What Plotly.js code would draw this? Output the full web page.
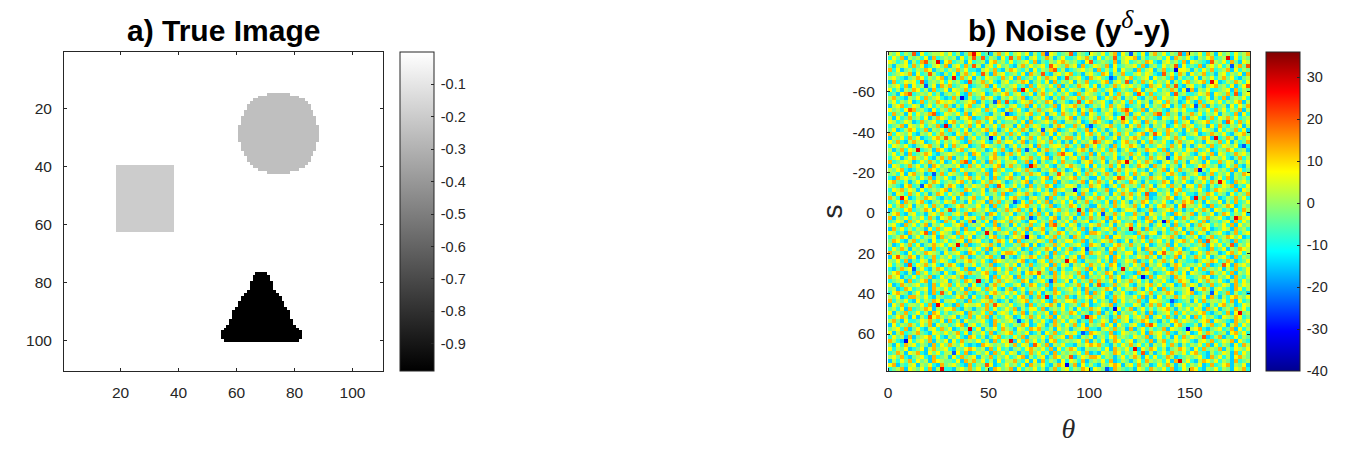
<!DOCTYPE html>
<html>
<head>
<meta charset="utf-8">
<script src="https://cdn.plot.ly/plotly-3.0.1.min.js"></script>
<style>html,body{margin:0;padding:0;background:#fff}</style>
</head>
<body>
<div id="plot" style="width:1361px;height:449px"></div>
<script>
// a) shapes (image is 110 x 110)
const imgSize = 110;
const squareVal = -0.197, circleVal = -0.247, triangleVal = -0.984;
const squareCols = [19, 38], squareRows = [40, 62];
const circleFirstRow = 15, circleCenterCol = 74;
const circleHalf = [4,7,9,10,11,11,12,12,13,13,13,14,14,14,14,14,14,13,13,13,12,12,11,11,10,9,7,4];
const triFirstRow = 77, triCenterCol = 68;
const triHalf = [2,3,3,4,4,4,5,6,7,7,8,8,9,10,10,10,11,11,12,13,14,14,14,13];
const grayTicks = [-0.1,-0.2,-0.3,-0.4,-0.5,-0.6,-0.7,-0.8,-0.9];

// b) noise: hand estimated by eye on a coarser grid than the original,
// it follows the colour mix of the picture, not each single cell
const noiseLevels = [-32,-24,-15,-9,-3,2,7,13,20,28];
const noiseRows = [
"546354826345564 635247963425746 356462537165345 825436546357264 453625746354827 546375264536457",
"364725453627345 452635848354263 547325634752463 346574263548356 672534453627546 325467345926354",
"653462537845326 734526345267453 634563724354675 453268345437256 345476325645372 654328546374265",
"425563746235647 256374852563645 325746456326547 562734654726345 563724536458263 437256463525748",
"736245354762453 547463325647325 764352635478352 345645273536264 427356247345665 253647345726354",
"345657263485325 362574634527563 453627548325646 734256437625473 356465328463752 645734256354627",
"564324576354672 453746253654374 627345364756238 456327564352546 734562645372534 362546357463245",
"273465638245463 645328457463256 345762453627354 625473346725648 253746354625367 456734623547536",
"456372645346275 734562345726354 563427365463725 347563625347465 645327563748325 634256745362468",
"635254763527346 265473654347625 472563746345263 654256743562354 376254635475263 725463345627354",
"342678345463524 546327456235467 356346257463546 327465435263746 524637345628453 346572654738256",
"574325463745632 374625347563254 645723546325374 563745623647525 463254736546327 563462537245463",
"463546237354765 653456725346738 324657354762453 245367456325463 736452563745236 427356463546725",
"256734652463547 425367346254653 563472635347265 674523546374652 345263547625374 654725345263647",
"645362745326354 763254563746325 746325474563264 352647325463578 634726453256463 325463746354725",
"374526364578236 546372654325467 235467346256375 463726534652347 256354763745254 746354625437263",
"526347453624765 342567234765346 674352563724546 725346473563625 473645326546372 563247365746345",
"653465237456342 674356475362534 453627345647325 546235764325476 365274645327356 245673452563746",
"345726546354725 253647362546375 526374653425763 374625345674352 647352546236475 634526374354625",
"462357634725463 745362546735246 364752463567234 653472635246345 523467354763526 473654263547362",
"736546325463574 326475354267453 746325547362645 425367463525746 346725463745324 562347546325674",
"254637462346758 563724635473625 352647364526357 746354257346254 675346235647463 345762634752546",
"647325756234635 465327456325746 635724356473524 263546374652367 452637546325745 634265473625347",
"365463245674526 374562347654352 463546274356647 535274635427365 764253465374625 246537346546273",
"524736563452763 246735645236473 257364625745362 346752546375246 325476637254536 573462354763452",
"463527345763245 654352763457325 746354365234756 625437263546354 746325354726465 325647265347564",
"356246754632574 725463254367546 324657436725463 563725457346235 264537465236754 463725546324735",
"734565236475362 364752635274635 563472625346374 432567346254763 536475325647352 654263374652546",
"265347463527645 546237463546725 745326754632546 754362635473625 347652746354263 346754523647325",
"546732356476354 273645546327463 356474325467352 365247456325746 563426357263745 472536645372634",
"453626745235473 654372354726534 623547563254764 526374635742536 374652453675324 563247354625476",
"327564536472546 325467463527346 745263346725645 673542263546375 625347564236475 346752463725453",
"674352463257634 546735236475642 354672546337254 345726475362543 764253347625463 254637546327564",
"543267345674325 763254654732563 463527354762346 652437563246375 453746256374526 637425346572436",
"365746526345467 254376346257456 725346463527564 473562354723646 325647634526734 546324765437265",
"426537463524763 645723546345372 346574235647325 562743634526475 746352254637463 325476354263547",
"753462354765324 362546734625463 674325645273546 347256476354625 635472345762356 264735623547463",
"346275467324536 573426356274735 452637364725463 625473543627364 254763546325476 735264462537346",
"635746254637452 346754463527346 235674536472354 763542264537465 473625367452635 546327345762354",
"254367345762635 625346754632547 467352625346745 346527547363246 652347245673524 364752653426375",
"467325634256474 356472345276354 624537473625356 452736362547463 374526546327645 725346247635462",
"725463546374265 734265637452346 356746254367254 625347453726354 563274635462375 346574563243756",
"346527463546327 462537453627564 745326635472546 374562346257634 425367254736453 653724435627364",
"563274635725463 356724546337245 263547346275463 652436574362546 736452463527346 247563546372645",
"274635354263746 645273362546734 536472657346325 463725235647354 645273546374625 354762346527453",
"653427546327365 427365634752456 374625346254763 546327764352543 327546625347462 736524563247356",
"345762463546274 563746245367342 465736523647354 275364453726645 563724346574235 462357345764623",
"476325735426346 345627563425763 627345465372546 634725346574236 254637463525674 637245635427345",
"523647362457563 654372346574253 354762623547463 456327652436754 745362354726345 345726463572546",
"364752546327345 273546463726534 546237345762635 723654345267463 436275546374623 564327346254765",
"745326354765426 456327635245367 763542463527346 345627564372546 625437263546754 236475523674635",
"263547625347354 634752354673425 324657634725463 562743354627635 346574625347263 475362456327354",
"546372436527465 325467546327654 546723256374546 673254463527346 572436357462543 324657634752346",
"635428365746325 763254635472346 462537345627365 254637546376245 364725463257634 546372345627564",
"324756546325763 456372263547635 736452546374253 365472635246374 645273546327456 263745462537346",
"467325274635426 325647546732546 345267635427364 547326354762453 327564234675362 654327546372546",
"756243635472364 564723345627365 627354263547465 635724546374623 463527365427563 345762354627435",
"345627346725456 245376463525746 543762456327346 263547375462645 746352546324765 236475463257364",
"623754563427365 736452634257463 356247634725563 457362562347456 325467463562374 652437346527465",
"452376345627546 354627563746325 724635546327345 635274345762635 574263627354456 346752564327635",
"367542463527364 625473245367546 463527362547634 546372746325463 235647345762356 723546634725342",
"546237754632543 346752634725463 536742473625347 325467456237564 463725263547465 354627425367546",
"735463263547625 563427346574235 245673546327546 674352635427364 547326654372345 263745546372634",
"264735546372463 427365563742654 634527354675263 453762346572453 365247473625634 546325367452365",
"453627345762546 673254245736346 472536637245463 526347563247635 724635356742546 365274624537463",
"625473463527635 345627546372565 364725354627354 763542472536254 463527245637364 546732453726345",
"346752625346754 562437364725346 523647463572645 345267635424756 356472563742536 273645326547634",
"574263346574362 735264456327545 647352546327463 652437346527356 245763425367465 435672654327546",
"263547536472645 346725635427364 354762365247536 473625457362643 563274634526743 352647346257364",
"456372463256374 623547362546375 426537674352645 245673325647452 724635347265436 567324563472635",
"625734574326546 457362546372456 735462352647346 563427654372365 453627564732546 236475345267463",
"364527245673632 546327635246734 364725546374562 732546245367454 365472463526374 654723572436354",
"753246356472546 263745463527365 526374635267345 456372536247635 624537257346465 325647346572643",
"426375635427364 754632327654546 473652364725463 325467674325364 746352546374253 546372635426375",
"635462346257456 325467645273634 245367546372635 763254453627546 352647635245764 263745472536546",
"347526573264635 546372354627463 652437463527354 546372326547635 463725246375463 674325346527364",
"564732456327345 263745625473546 346725356247645 324657763542463 575263634752345 456327463526754",
"253647364527654 436275746352635 574362627354263 653724546372354 246375453627546 325764635427345",
"672435625463274 564327354762346 453627546325764 472635325467625 637452364752463 546237346725462",
"345726546372563 325647463527645 726354635247356 354762654327543 426537546372364 763254635426573"
];
// sparse red and blue cells seen in the picture: [row, col, code]
const noiseSpecks = [
[2,12,9],[3,40,8],[4,71,0],[5,23,8],[6,55,1],[7,80,9],[8,9,1],[9,33,9],[10,62,8],[11,18,0],[12,47,8],[13,76,1],
[14,5,8],[15,29,1],[16,58,9],[17,84,8],[18,14,9],[19,38,1],[20,66,8],[21,25,0],[22,51,8],[23,88,1],[24,7,9],[25,43,8],
[26,69,1],[27,19,8],[28,35,9],[29,77,0],[30,11,1],[31,57,8],[32,82,9],[33,27,8],[34,46,0],[35,64,8],[36,3,9],[37,31,1],
[38,73,8],[39,15,8],[40,53,1],[41,86,9],[42,21,1],[43,41,8],[44,60,9],[45,9,8],[46,34,0],[47,79,8],[48,17,9],[49,49,1],
[50,68,8],[51,28,1],[52,44,9],[53,83,8],[54,6,1],[55,37,8],[56,63,0],[57,22,9],[58,52,8],[59,75,1],[60,13,8],[61,39,9],
[62,70,1],[63,26,8],[64,56,0],[65,87,9],[66,10,8],[67,32,1],[68,65,8],[69,20,9],[70,48,1],[71,78,8],[72,4,0],[73,36,8],
[74,61,9],[75,16,1],[76,45,8],[77,72,9],[78,24,8],[79,54,1],[1,30,8],[3,85,1],[6,16,9],[9,74,1],[12,26,1],[15,67,8],
[18,50,1],[21,81,9],[24,34,1],[27,59,9],[30,42,8],[33,8,1],[36,76,9],[39,47,9],[42,68,0],[45,24,9],[48,85,8],[51,2,8],
[54,58,9],[57,40,1],[60,80,1],[63,12,9],[66,49,9],[69,74,0],[72,30,9],[75,63,8],[78,44,0],[0,60,1],[79,13,9],[41,35,1]
];
const noiseTicks = [-40,-30,-20,-10,0,10,20,30];
const thetaTicks = [0,50,100,150];
const sTicks = [-60,-40,-20,0,20,40,60];
const imgTicks = [20,40,60,80,100];

const W = 1361, H = 449;
const textCol = '#262626';
const sans = '"Liberation Sans", Arial, sans-serif';
const serif = '"Liberation Serif", "Times New Roman", serif';

// build the image matrix from the row lists
let img = [];
for (let r = 1; r <= imgSize; r++) {
    let row = [];
    for (let c = 1; c <= imgSize; c++) {
        let v = 0;
        if (r >= squareRows[0] && r <= squareRows[1] && c >= squareCols[0] && c <= squareCols[1]) v = squareVal;
        let hc = circleHalf[r - circleFirstRow];
        if (hc && c > circleCenterCol - hc && c <= circleCenterCol + hc) v = circleVal;
        let ht = triHalf[r - triFirstRow];
        if (ht && c > triCenterCol - ht && c <= triCenterCol + ht) v = triangleVal;
        row.push(v);
    }
    img.push(row);
}

let noise = noiseRows.map(s => s.replace(/ /g, '').split('').map(d => noiseLevels[+d]));
noiseSpecks.forEach(s => { noise[s[0]][s[1]] = noiseLevels[s[2]]; });

function axisStyle(extra) {
    return Object.assign({
        showgrid: false, zeroline: false, showline: true, mirror: 'ticks',
        linecolor: textCol, linewidth: 1, ticks: 'inside', ticklen: 3, tickwidth: 1,
        tickcolor: textCol, tickfont: {family: sans, size: 15.5, color: textCol}
    }, extra);
}

function cbar(left, tickvals) {
    return {
        x: left / W, xanchor: 'left', xref: 'paper', xpad: 0,
        y: 1 - 211.5 / H, yanchor: 'middle', ypad: 0, yref: 'paper',
        len: 319, lenmode: 'pixels', thickness: 34, thicknessmode: 'pixels',
        outlinecolor: textCol, outlinewidth: 1,
        ticks: 'inside', ticklen: 3, tickcolor: textCol,
        tickvals: tickvals, ticktext: tickvals.map(v => '\u2009' + v),
        tickfont: {family: sans, size: 14.5, color: textCol}
    };
}

let gray = {
    type: 'heatmap', z: img, x0: 1, dx: 1, y0: 1, dy: 1, xaxis: 'x', yaxis: 'y',
    zmin: triangleVal, zmax: 0, colorscale: [[0, '#000000'], [1, '#ffffff']],
    hoverinfo: 'skip', colorbar: cbar(400, grayTicks)
};
let jet = {
    type: 'heatmap', z: noise, x0: 1, dx: 2, y0: -78.7, dy: 1.975, xaxis: 'x2', yaxis: 'y2',
    zmin: -40, zmax: 36,
    colorscale: [[0, '#00008f'], [0.125, '#0000ff'], [0.375, '#00ffff'], [0.625, '#ffff00'], [0.875, '#ff0000'], [1, '#800000']],
    hoverinfo: 'skip', colorbar: cbar(1266, noiseTicks)
};

let titleFont = {family: sans, size: 30, color: '#000000'};
let layout = {
    width: W, height: H, margin: {l: 0, r: 0, t: 0, b: 0, pad: 0},
    paper_bgcolor: '#ffffff', plot_bgcolor: '#ffffff', showlegend: false,
    xaxis: axisStyle({domain: [64 / W, 383 / W], range: [0.5, 110.5], tickvals: imgTicks, anchor: 'y', ticklabelstandoff: 7}),
    yaxis: axisStyle({domain: [1 - 371 / H, 1 - 52 / H], range: [110.5, 0.5], tickvals: imgTicks, anchor: 'x', ticklabelstandoff: 8}),
    xaxis2: axisStyle({
        domain: [887 / W, 1250 / W], range: [-0.5, 180], tickvals: thetaTicks, anchor: 'y2', ticklabelstandoff: 7,
        title: {text: '<i>θ</i>', font: {family: serif, size: 28, color: textCol}, standoff: 18}
    }),
    yaxis2: axisStyle({
        domain: [1 - 371 / H, 1 - 52 / H], range: [78.3, -79.7], tickvals: sTicks, ticktext: sTicks.map(String), anchor: 'x2', ticklabelstandoff: 8,
        title: {text: 's', font: {family: sans, size: 28, color: textCol}, standoff: 1}
    }),
    annotations: [
        {xref: 'paper', yref: 'paper', x: 223.5 / W, y: 1 - 30 / H, xanchor: 'center', yanchor: 'middle', showarrow: false,
         text: '<b>a) True Image</b>', font: titleFont},
        {xref: 'paper', yref: 'paper', x: 1069 / W, y: 1 - 26 / H, xanchor: 'center', yanchor: 'middle', showarrow: false,
         text: '<b>b) Noise (y<sup><span style="font-family:\'Liberation Serif\';font-style:italic;font-weight:normal;font-size:26px">δ</span></sup>-y)</b>', font: titleFont}
    ]
};

Plotly.newPlot('plot', [gray, jet], layout, {displayModeBar: false, staticPlot: true});
</script>
</body>
</html>
